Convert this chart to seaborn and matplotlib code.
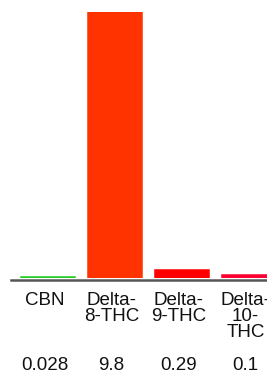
import pandas as pd
import matplotlib
matplotlib.use("Agg")
import matplotlib.pyplot as plt
import matplotlib.transforms as mtransforms
import seaborn as sns

# data
compounds = ["CBN", "Delta-8-THC", "Delta-9-THC", "Delta-10-THC"]
tick_labels = ["CBN", "Delta-\n8-THC", "Delta-\n9-THC", "Delta-\n10-\nTHC"]
values = [0.028, 9.8, 0.29, 0.1]
value_labels = ["0.028", "9.8", "0.29", "0.1"]
colors = ["#22cc22", "#ff3300", "#ff0000", "#ff0033"]

df = pd.DataFrame({"compound": compounds, "value": values})

sns.set_style("white")
plt.rcParams["font.family"] = ["Liberation Sans", "DejaVu Sans"]

fig = plt.figure(figsize=(2.67, 3.73), dpi=100)
ax = fig.add_axes([11 / 267, 95 / 373, 1 - 11 / 267, 266 / 373])

sns.barplot(data=df, x="compound", y="value", hue="compound",
            palette=dict(zip(compounds, colors)), width=0.8,
            saturation=1, legend=False, ax=ax)

# bars sit slightly right of the category centres in the reference;
# thin same-colour edge keeps the tiny CBN bar visible
for p in ax.patches:
    p.set_x(p.get_x() + 0.05)
    p.set_edgecolor(p.get_facecolor())
    p.set_linewidth(1.1)

ax.set_xlim(-0.5, 3.32)
ax.set_ylim(0, 9.8)
for s in ["top", "right", "left"]:
    ax.spines[s].set_visible(False)
ax.spines["bottom"].set_color("#555555")
ax.spines["bottom"].set_linewidth(1.8)
ax.spines["bottom"].set_position(("outward", 1.5))
ax.set_yticks([])
ax.set_xlabel("")
ax.set_ylabel("")

# ticks at category boundaries, labels at centres
ax.set_xticks([0.5, 1.5, 2.5], minor=False)
ax.set_xticklabels([])
ax.tick_params(axis="x", length=2.5, width=1.2, color="#333333", direction="out")

trans = mtransforms.blended_transform_factory(ax.transData, fig.transFigure)
for i, (lab, val) in enumerate(zip(tick_labels, value_labels)):
    ax.text(i, 1 - 292 / 373, lab, transform=trans, ha="center", va="top",
            fontsize=13.5, linespacing=0.92, color="#111111")
    ax.text(i, 1 - 366 / 373, val, transform=trans, ha="center", va="center",
            fontsize=13.5, color="#111111")

fig.savefig("out.png", dpi=100)
